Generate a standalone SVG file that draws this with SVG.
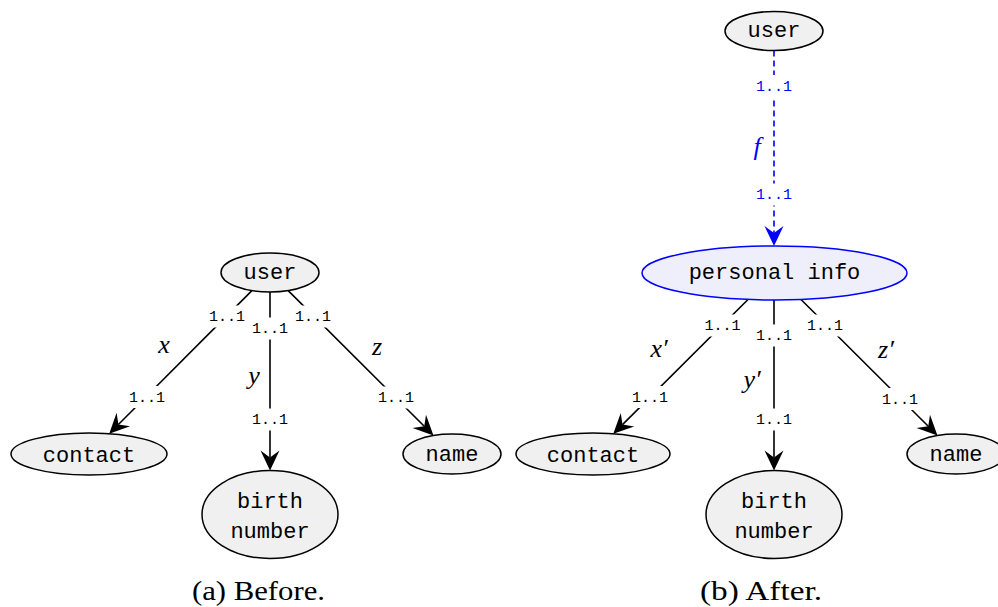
<svg xmlns="http://www.w3.org/2000/svg" width="998" height="607" viewBox="0 0 998 607">
<style>
.node{fill:#f0f0f0;stroke:#000;stroke-width:1.5}
.pnode{fill:#efeffc;stroke:#0000ff;stroke-width:1.5}
.nt{font-family:"Liberation Mono","DejaVu Sans Mono",monospace;font-size:22px;text-anchor:middle;fill:#000}
.edge{stroke:#000;stroke-width:1.6;fill:none}
.bedge{stroke:#0000ff;stroke-width:1.6;fill:none;stroke-dasharray:6 4}
.lb{fill:#fff;stroke:none}
.card{font-family:"Liberation Mono","DejaVu Sans Mono",monospace;font-size:15px;text-anchor:middle;fill:#000}
.bcard{font-family:"Liberation Mono","DejaVu Sans Mono",monospace;font-size:15px;text-anchor:middle;fill:#0000ff}
.math{font-family:"Liberation Serif","DejaVu Serif",serif;font-style:italic;font-size:26px;text-anchor:middle;fill:#000}
.cap{font-family:"Liberation Serif","DejaVu Serif",serif;font-size:27px;text-anchor:middle;fill:#000}
</style>
<defs>
<marker id="ah" markerUnits="userSpaceOnUse" orient="auto" refX="0" refY="0" markerWidth="30" markerHeight="30" viewBox="-10 -15 30 30" overflow="visible">
<path d="M13,0 L-7,-9.5 L0,0 L-7,9.5 Z" fill="#000"/>
</marker>
<marker id="ahb" markerUnits="userSpaceOnUse" orient="auto" refX="0" refY="0" markerWidth="30" markerHeight="30" viewBox="-10 -15 30 30" overflow="visible">
<path d="M13,0 L-7,-9.5 L0,0 L-7,9.5 Z" fill="#0000ff"/>
</marker>
</defs>
<rect width="998" height="607" fill="#fff"/>

<g id="connectors">
<line class="edge" x1="251.9" y1="290.6" x2="118.4" y2="424.5" marker-end="url(#ah)"/>
<line class="edge" x1="270" y1="292" x2="270" y2="457.5" marker-end="url(#ah)"/>
<line class="edge" x1="288.2" y1="290.6" x2="424.25" y2="426.3" marker-end="url(#ah)"/>
<line class="bedge" x1="774" y1="50.5" x2="774" y2="233" marker-end="url(#ahb)"/>
<line class="edge" x1="748" y1="299.5" x2="622.5" y2="424.6" marker-end="url(#ah)"/>
<line class="edge" x1="774" y1="300" x2="774" y2="457.5" marker-end="url(#ah)"/>
<line class="edge" x1="801" y1="299.5" x2="928.25" y2="426.3" marker-end="url(#ah)"/>

<g id="edge-labels">
<rect class="lb" x="207" y="305.5" width="40" height="22"/><text class="card" x="227" y="321">1..1</text>
<rect class="lb" x="250" y="317.5" width="40" height="22"/><text class="card" x="270" y="333">1..1</text>
<rect class="lb" x="293" y="305.5" width="40" height="22"/><text class="card" x="313" y="321">1..1</text>
<rect class="lb" x="127" y="386" width="40" height="22"/><text class="card" x="147" y="401.5">1..1</text>
<rect class="lb" x="250" y="408.5" width="40" height="22"/><text class="card" x="270" y="424">1..1</text>
<rect class="lb" x="376" y="386.5" width="40" height="22"/><text class="card" x="396" y="402">1..1</text>
<text class="math" x="164" y="353">x</text>
<text class="math" x="254" y="384">y</text>
<text class="math" x="377" y="355">z</text>

<rect class="lb" x="754" y="75" width="40" height="22"/><text class="bcard" x="774" y="90.5">1..1</text>
<rect class="lb" x="754" y="183.5" width="40" height="22"/><text class="bcard" x="774" y="199">1..1</text>
<text class="math" x="757" y="155" style="fill:#0000ff">f</text>

<rect class="lb" x="702.5" y="314.5" width="40" height="22"/><text class="card" x="722.5" y="330">1..1</text>
<rect class="lb" x="754" y="324.5" width="40" height="22"/><text class="card" x="774" y="340">1..1</text>
<rect class="lb" x="805" y="314.5" width="40" height="22"/><text class="card" x="825" y="330">1..1</text>
<rect class="lb" x="630" y="386" width="40" height="22"/><text class="card" x="650" y="401.5">1..1</text>
<rect class="lb" x="754" y="408.5" width="40" height="22"/><text class="card" x="774" y="424">1..1</text>
<rect class="lb" x="880" y="388" width="40" height="22"/><text class="card" x="900" y="403.5">1..1</text>
<text class="math" x="659" y="357">x′</text>
<text class="math" x="752" y="388">y′</text>
<text class="math" x="886" y="358">z′</text>
</g>
</g>

<g id="a-user"><ellipse class="node" cx="270" cy="272.5" rx="49" ry="19.5"/><text class="nt" x="270" y="279">user</text></g>
<g id="a-contact"><ellipse class="node" cx="89" cy="454" rx="78" ry="21"/><text class="nt" x="89" y="461.5">contact</text></g>
<g id="a-birth"><ellipse class="node" cx="270" cy="514.5" rx="68" ry="44"/><text class="nt" x="270" y="507.5">birth</text><text class="nt" x="270" y="537.5">number</text></g>
<g id="a-name"><ellipse class="node" cx="452" cy="454" rx="49" ry="20"/><text class="nt" x="452" y="460.5">name</text></g>

<g id="b-user"><ellipse class="node" cx="774" cy="31" rx="49" ry="19.5"/><text class="nt" x="774" y="37">user</text></g>
<g id="b-personal"><ellipse class="pnode" cx="774.5" cy="273" rx="132.5" ry="27"/><text class="nt" x="774.5" y="279">personal info</text></g>
<g id="b-contact"><ellipse class="node" cx="593" cy="454" rx="77" ry="21"/><text class="nt" x="593" y="461.5">contact</text></g>
<g id="b-birth"><ellipse class="node" cx="774" cy="514.5" rx="68" ry="44"/><text class="nt" x="774" y="507.5">birth</text><text class="nt" x="774" y="537.5">number</text></g>
<g id="b-name"><ellipse class="node" cx="956" cy="454" rx="49" ry="20"/><text class="nt" x="956" y="460.5">name</text></g>

<text class="cap" x="258.5" y="600" textLength="133" lengthAdjust="spacingAndGlyphs">(a) Before.</text>
<text class="cap" x="761" y="600" textLength="122" lengthAdjust="spacingAndGlyphs">(b) After.</text>
</svg>
